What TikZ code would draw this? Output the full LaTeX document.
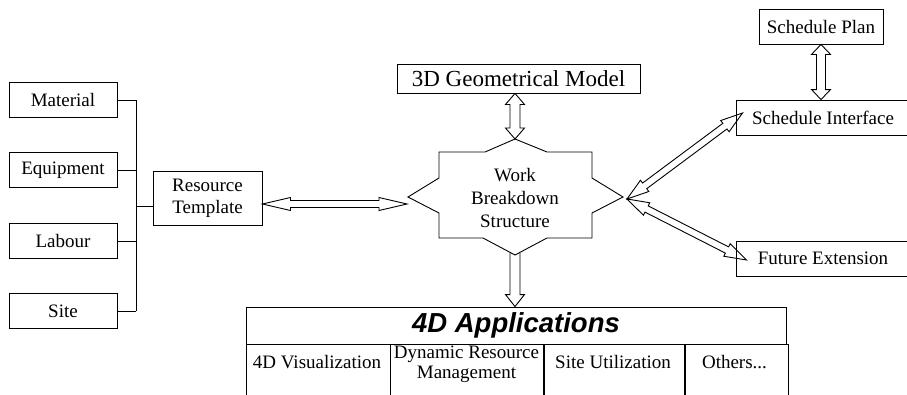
\documentclass[tikz,border=0pt]{standalone}
\usepackage{fontspec}
\setmainfont{Liberation Serif}
\newfontfamily\appfont{Liberation Sans}
\usetikzlibrary{calc}

% hollow arrow: from, to, shaft half width, head half width, head length
\newcommand{\hollowarrow}[5]{%
  \draw[link] let \p1=(#1), \p2=(#2), \n1={atan2(\y2-\y1,\x2-\x1)}, \n2={veclen(\x2-\x1,\y2-\y1)} in
    [shift={(\p1)},rotate=\n1] (0,0) -- (#5,#4) -- (#5,#3) -- (\n2-#5,#3) -- (\n2-#5,#4) -- (\n2,0)
    -- (\n2-#5,-#4) -- (\n2-#5,-#3) -- (#5,-#3) -- (#5,-#4) -- cycle;}
\newcommand{\hollowsingle}[5]{%
  \draw[link] let \p1=(#1), \p2=(#2), \n1={atan2(\y2-\y1,\x2-\x1)}, \n2={veclen(\x2-\x1,\y2-\y1)} in
    [shift={(\p1)},rotate=\n1] (0,#3) -- (\n2-#5,#3) -- (\n2-#5,#4) -- (\n2,0)
    -- (\n2-#5,-#4) -- (\n2-#5,-#3) -- (0,-#3);}

\begin{document}
\begin{tikzpicture}[x=1pt,y=-1pt]
  \tikzset{box/.style = {draw,line width=0.9pt,shape=rectangle,inner sep=1pt,align=center,font=\fontsize{19}{22}\selectfont}}
  \tikzset{link/.style = {line width=0.9pt,line join=miter}}

  \clip (0,0) rectangle (907,394);

  % resources
  \node[box,minimum width=108pt,minimum height=35pt] (mat) at (63,100) {Material};
  \node[box,minimum width=108pt,minimum height=35pt] (equ) at (63,170) {Equipment};
  \node[box,minimum width=108pt,minimum height=35pt] (lab) at (63,241) {Labour};
  \node[box,minimum width=108pt,minimum height=35pt] (site) at (63,311) {Site};

  \node[box,minimum width=109pt,minimum height=54pt] (res) at (207.5,198) {Resource\\Template};

  \coordinate (bus) at (136,206);
  \foreach \n in {mat,equ,lab,site}
    \draw[link] (\n.east) -- (\n.east -| bus);
  \draw[link] (mat.east -| bus) -- (site.east -| bus);
  \draw[link] (bus) -- (bus -| res.west);

  % work breakdown structure
  \draw[link] (515,139) coordinate (wbsN) -- (547,152) -- (592,152) -- (592,178)
    -- (623,197) coordinate (wbsE) -- (592,213) -- (592,238) -- (547,238)
    -- (515,255) coordinate (wbsS) -- (483,238) -- (439,238) -- (439,213)
    -- (408,197) -- (439,178) -- (439,152) -- (485,152) -- cycle;
  \node[align=center,font=\fontsize{19}{23}\selectfont] (wbs) at (515,198) {Work\\Breakdown\\Structure};
  \coordinate (wbsW) at (407,204);
  \coordinate (wbsR) at (627,199);

  \node[box,minimum width=243pt,minimum height=29pt,font=\fontsize{23}{26}\selectfont] (geo) at (518.5,78.5) {3D Geometrical Model};

  % schedule
  \node[box,minimum width=124pt,minimum height=35pt] (plan) at (821,26.5) {Schedule Plan};
  \node[box,minimum width=174pt,minimum height=35pt] (sif) at (823,117.5) {Schedule Interface};
  \node[box,minimum width=174pt,minimum height=35pt] (fut) at (823,258.5) {Future Extension};

  % 4D applications
  \node[box,minimum width=540pt,minimum height=37pt,font=\appfont\bfseries\itshape\fontsize{27.5}{30}\selectfont] (app) at (516,325.5) {4D Applications};
  \node[box,minimum width=144pt,minimum height=56pt,anchor=north west] (vis) at (app.south west) {};
  \node[box,minimum width=153pt,minimum height=56pt,anchor=north west] (dyn) at (vis.north east) {};
  \node[box,minimum width=140pt,minimum height=56pt,anchor=north west] (util) at (dyn.north east) {};
  \node[box,minimum width=103pt,minimum height=56pt,anchor=north west] (oth) at (util.north east) {};
  \node[font=\fontsize{19}{20}\selectfont] at (317,362) {4D Visualization};
  \node[font=\fontsize{19}{20}\selectfont,align=center] at (466.5,364) {Dynamic Resource\\Management};
  \node[font=\fontsize{19}{20}\selectfont] at (613,362) {Site Utilization};
  \node[font=\fontsize{19}{20}\selectfont] at (734.5,362) {Others...};

  % arrows
  \hollowarrow{res.east |- wbsW}{wbsW}{3.5}{6.5}{28}
  \hollowarrow{geo.south -| wbsN}{wbsN}{5}{9.5}{11}
  \hollowsingle{[yshift=2pt]wbsS}{wbsS |- app.north}{5}{9.5}{12}
  \hollowarrow{plan.south}{plan.south |- sif.north}{4.5}{9.5}{10}
  \hollowarrow{wbsR}{[xshift=7pt,yshift=4.5pt]sif.west}{3.5}{7}{22}
  \hollowarrow{wbsR}{[xshift=11pt,yshift=-1.5pt]fut.west}{3.5}{7}{22}

\end{tikzpicture}
\end{document}
